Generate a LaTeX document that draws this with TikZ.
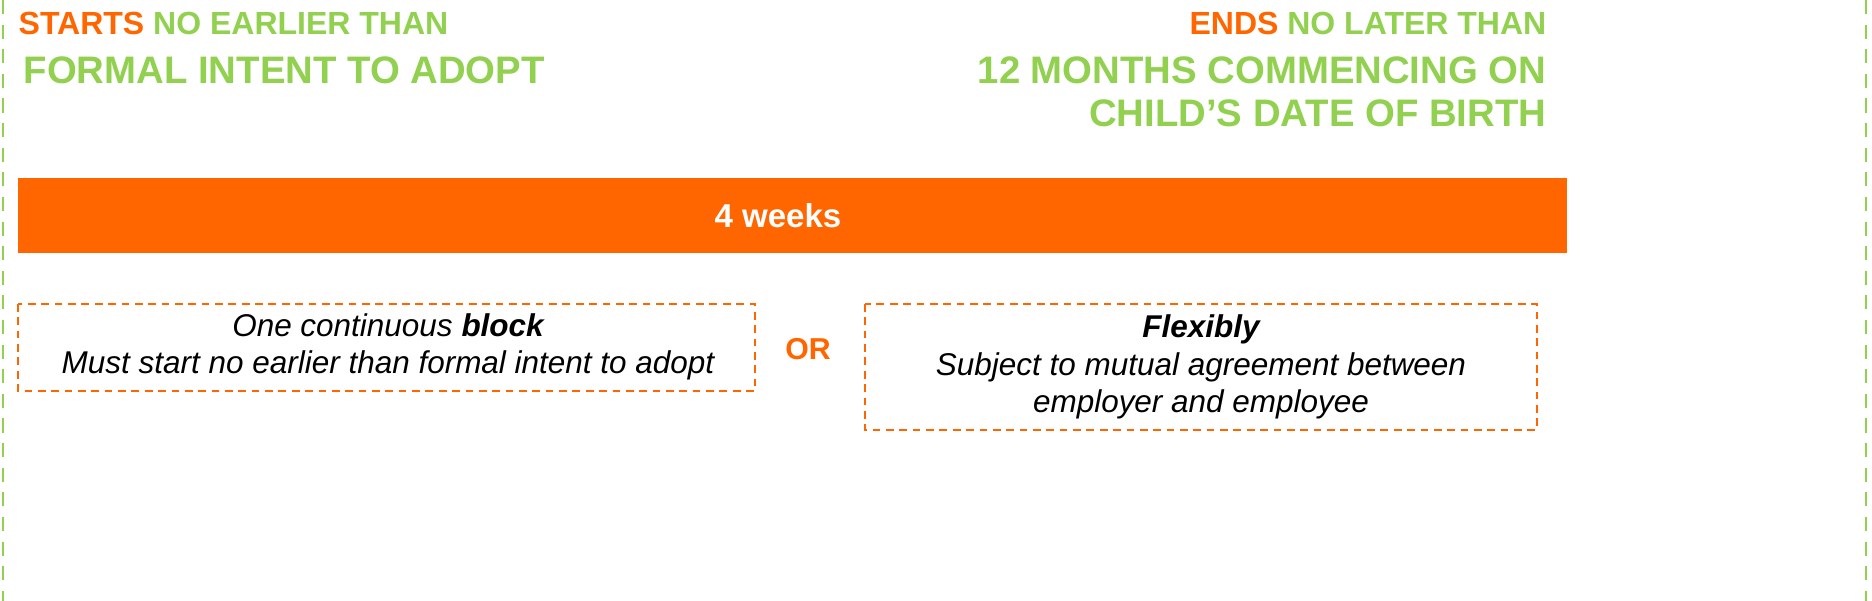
\documentclass[tikz,border=0pt]{standalone}
\usepackage{fontspec}
\setmainfont{Liberation Sans}
\usetikzlibrary{positioning}
\definecolor{lgreen}{HTML}{92D050}
\definecolor{dorange}{HTML}{FF6600}
\begin{document}
\begin{tikzpicture}[x=0.01cm,y=-0.01cm]
	\tikzset{head/.style={font=\bfseries\fontsize{9.1}{11}\selectfont,text=lgreen,inner sep=0pt}}
	\tikzset{big/.style={font=\bfseries\fontsize{10.9}{13}\selectfont,text=lgreen,inner sep=0pt}}
	\tikzset{optbox/.style={draw=dorange,line width=0.4pt,dash pattern=on 2.2pt off 1.6pt}}
	\tikzset{opttext/.style={font=\itshape\fontsize{8.95}{10.6}\selectfont,align=center,inner sep=0pt}}
	\useasboundingbox (0,0) rectangle (1872,601);
	% side limits
	\draw[lgreen,line width=0.8pt,dash pattern=on 4pt off 3pt] (3,0) -- (3,601);
	\draw[lgreen,line width=0.8pt,dash pattern=on 4pt off 3pt] (1866,0) -- (1866,601);
	% headings
	\node[head,anchor=west] (start) at (18,23) {\textcolor{dorange}{STARTS} NO EARLIER THAN};
	\node[big,anchor=west] (intent) at (23,70) {FORMAL INTENT TO ADOPT};
	\node[head,anchor=east] (end) at (1547,23) {\textcolor{dorange}{ENDS} NO LATER THAN};
	\node[big,anchor=east] (months) at (1547,70) {12 MONTHS COMMENCING ON};
	\node[big,anchor=east] (birth) at (1547,113) {CHILD’S DATE OF BIRTH};
	% bar
	\fill[dorange] (18,178) rectangle (1567,253);
	\node[font=\bfseries\fontsize{9.4}{11}\selectfont,text=white] (weeks) at (778,216) {4 weeks};
	% options
	\draw[optbox] (18,304) rectangle (755,391);
	\node[opttext] (block) at (388,347) {One continuous \textbf{block}\\Must start no earlier than formal intent to adopt};
	\node[font=\bfseries\fontsize{8.6}{11}\selectfont,text=dorange] (or) at (808,349) {OR};
	\draw[optbox] (865,304) rectangle (1537,430);
	\node[opttext] (flex) at (1201,367) {\textbf{Flexibly}\\Subject to mutual agreement between\\employer and employee};
\end{tikzpicture}
\end{document}
